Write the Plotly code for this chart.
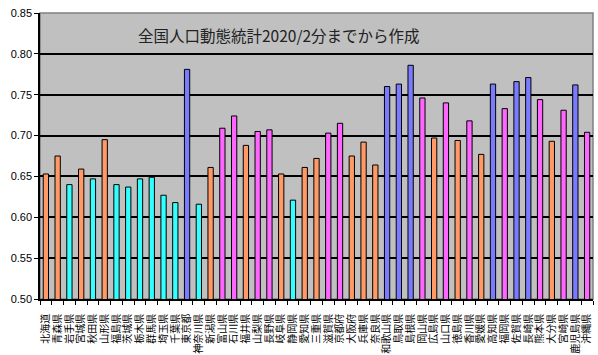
import plotly.graph_objects as go

prefectures = ["北海道","青森県","岩手県","宮城県","秋田県","山形県","福島県","茨城県","栃木県","群馬県",
               "埼玉県","千葉県","東京都","神奈川県","新潟県","富山県","石川県","福井県","山梨県","長野県",
               "岐阜県","静岡県","愛知県","三重県","滋賀県","京都府","大阪府","兵庫県","奈良県","和歌山県",
               "鳥取県","島根県","岡山県","広島県","山口県","徳島県","香川県","愛媛県","高知県","福岡県",
               "佐賀県","長崎県","熊本県","大分県","宮崎県","鹿児島県","沖縄県"]
values = [0.653,0.675,0.640,0.659,0.647,0.695,0.640,0.637,0.647,0.649,
          0.627,0.618,0.781,0.616,0.661,0.709,0.724,0.688,0.705,0.707,
          0.653,0.621,0.661,0.672,0.703,0.715,0.675,0.692,0.664,0.760,
          0.763,0.786,0.746,0.697,0.740,0.694,0.718,0.677,0.763,0.733,
          0.766,0.771,0.744,0.693,0.731,0.762,0.704]
groups = ["o","o","c","o","c","o","c","c","c","c",
          "c","c","b","c","o","m","m","o","m","m",
          "o","c","o","o","m","m","o","o","o","b",
          "b","b","m","o","m","o","m","o","b","m",
          "b","b","m","o","m","b","m"]
palette = {"o": "#FF9966", "c": "#33FFFF", "b": "#7B7BFF", "m": "#FF66FF"}
ytick_vals = [0.50,0.55,0.60,0.65,0.70,0.75,0.80,0.85]
title_text = "全国人口動態統計2020/2分までから作成"

fig = go.Figure(go.Bar(
    x=prefectures, y=values,
    marker=dict(color=[palette[g] for g in groups], line=dict(color="black", width=1)),
))

fig.update_layout(
    width=598, height=355,
    margin=dict(l=40, r=5, t=13, b=56, autoexpand=False),
    paper_bgcolor="white", plot_bgcolor="#C0C0C0",
    bargap=0.55, showlegend=False,
    font=dict(family="Liberation Sans, Arial", color="black"),
    annotations=[dict(text=title_text, xref="paper", yref="paper", x=0.174, y=0.923,
                      xanchor="left", yanchor="middle", showarrow=False,
                      font=dict(family="Noto Sans CJK JP", size=15.5, color="#222222"))],
)
fig.update_xaxes(
    tickmode="array", tickvals=prefectures, ticktext=prefectures,
    tickangle=-90, tickfont=dict(family="Noto Sans CJK JP", size=10, color="black"),
    ticklabelstandoff=9,
    showline=True, linecolor="black", linewidth=1.5, mirror=False,
    ticks="outside", ticklen=4, tickcolor="black", tickson="boundaries",
    showgrid=False, range=[-0.5, 46.5], automargin=False,
)
fig.update_yaxes(
    range=[0.5, 0.85], tickvals=ytick_vals, ticktext=[f"{v:.2f}" for v in ytick_vals],
    tickfont=dict(size=11, color="black"),
    showgrid=True, gridcolor="black", gridwidth=1.5,
    showline=True, linecolor="black", linewidth=1.5,
    ticks="outside", ticklen=4, tickcolor="black", zeroline=False, automargin=False,
)
fig.add_shape(type="rect", xref="paper", yref="paper", x0=0, y0=0, x1=1, y1=1,
              line=dict(color="#808080", width=1.5), layer="below")

fig.write_html("out.html", config={"displayModeBar": False},
               post_script="document.body.style.margin='0';document.body.style.overflow='hidden';")
